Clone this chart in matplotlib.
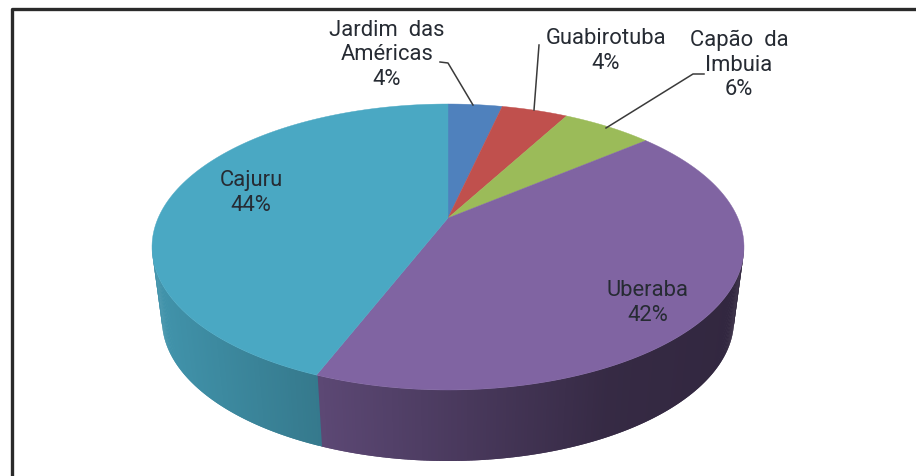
# 3D style pie chart, districts share

import numpy as np
import matplotlib
matplotlib.use("Agg")
import matplotlib.pyplot as plt
from matplotlib.colors import to_rgb

# slices, clockwise from 12 o'clock
names = ["Jardim  das\nAméricas", "Guabirotuba", "Capão  da\nImbuia", "Uberaba", "Cajuru"]
shares = [3.6, 4.4, 6.0, 42.0, 44.0]

_COLORS = ["#4F81BD", "#C0504D", "#9BBB59", "#8064A2", "#4AA8C3"]
_TEXT = "#262B33"

W, H = 916, 476
CX, CY, RX, RY = 448, 247, 296, 143     # top face outline, pixels
BOT_CY, BOT_RX, BOT_RY = 320, 286, 141  # bottom rim outline, pixels
APEX_SHIFT = 29 / 143                   # perspective: centre sits above the outline's middle

plt.rcParams["font.family"] = ["Roboto", "DejaVu Sans"]


def project(phi, cy=CY, rx=RX, ry=RY):
    """Circle angle phi (radians, clockwise from top) to pixel x, y with perspective."""
    u, v = np.sin(phi), np.cos(phi)
    c = APEX_SHIFT
    den = 1 + c * v
    x = CX + rx * np.sqrt(1 - c**2) * u / den
    y = cy - (ry * v + ry * c) / den
    return x, y


fig = plt.figure(figsize=(W / 100, H / 100), dpi=100, facecolor="white")
ax = fig.add_axes([0, 0, 1, 1])
ax.set_xlim(0, W)
ax.set_ylim(H, 0)
ax.set_axis_off()

cum = np.r_[0, np.cumsum(shares)] / np.sum(shares) * 2 * np.pi

# ── top face ──────────────────────────────────────────────────────────────────
apex_x, apex_y = project(np.pi / 2 * 0 + np.arccos(0)) if False else (CX, CY - RY * APEX_SHIFT)
for i, col in enumerate(_COLORS):
    arc = np.linspace(cum[i], cum[i + 1], 120)
    x, y = project(arc)
    ax.fill(np.r_[apex_x, x], np.r_[apex_y, y], color=col, lw=0.3, zorder=3)

# ── side wall ─────────────────────────────────────────────────────────────────
start = np.pi / 2 + np.arcsin(APEX_SHIFT)
end = 3 * np.pi / 2 - np.arcsin(APEX_SHIFT)
steps = np.linspace(start, end, 301)
for k in range(len(steps) - 1):
    mid = (steps[k] + steps[k + 1]) / 2
    idx = min(int(np.searchsorted(cum, mid)) - 1, len(_COLORS) - 1)
    # overlap the next strip, except across a slice edge
    stop = min(steps[min(k + 2, len(steps) - 1)], cum[idx + 1])
    seg = np.array([steps[k], stop])
    tx, ty = project(seg)
    bx, by = project(seg, BOT_CY, BOT_RX, BOT_RY)
    pos = (project(mid)[0] - CX) / RX
    shade = np.interp(pos, [-1, -0.44, 0.55, 1], [0.88, 0.72, 0.42, 0.39])
    # the purple slice runs to the right of the seam, the teal one ends there
    ax.fill(np.r_[tx, bx[::-1]], np.r_[ty, by[::-1]],
            color=np.array(to_rgb(_COLORS[idx])) * shade, lw=0, zorder=2)

# ── labels ────────────────────────────────────────────────────────────────────
label_pos = [(387, 55), (606, 51), (739, 65), (648, 303), (251, 193)]
for name, pct, (lx, ly) in zip(names, shares, label_pos):
    ax.text(lx, ly, f"{name}\n{round(pct)}%", ha="center", va="center",
            fontsize=15.8, color=_TEXT, linespacing=1.2, zorder=6)

# ── leader lines ──────────────────────────────────────────────────────────────
leaders = [
    ([440, 448, 473], [62, 63, 105]),
    ([539, 534], [45, 110]),
    ([704, 693, 606], [74, 74, 128]),
]
for xs, ys in leaders:
    ax.plot(xs, ys, color="#3A3A3A", lw=1.1, zorder=5)

# ── outer frame (only left and top show) ──────────────────────────────────────
ax.plot([12, 12, W], [H, 9, 9], color="#2A2A2A", lw=2.4, zorder=7)

fig.savefig("out.png", dpi=100)
